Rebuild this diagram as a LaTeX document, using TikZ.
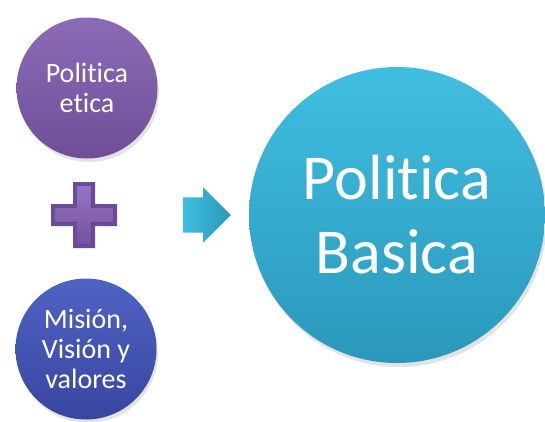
\documentclass[tikz,border=0pt]{standalone}
\usepackage{fontspec}
\setmainfont{Carlito}[Ligatures=NoCommon, Contextuals=NoAlternate, RawFeature={-liga;-clig;-calt;-dlig}]
\usepackage{tikz}
\usetikzlibrary{positioning}
\usetikzlibrary{shapes.arrows}
\tikzstyle{canvas} = [x = 1pt, y = -1pt]
\definecolor{ethicTop}{RGB}{140,108,184}
\definecolor{ethicBottom}{RGB}{110,78,150}
\definecolor{missionTop}{RGB}{80,98,196}
\definecolor{missionBottom}{RGB}{56,70,160}
\definecolor{basicTop}{RGB}{64,190,226}
\definecolor{basicBottom}{RGB}{42,152,186}
\definecolor{plusTop}{RGB}{150,116,196}
\definecolor{plusBottom}{RGB}{108,76,152}
\definecolor{shadowGray}{RGB}{200,200,200}
\tikzstyle{bubbleStyle} = [circle, draw=none, text=white, align=center, inner sep=0pt]
\tikzstyle{smallBubble} = [bubbleStyle, minimum size=141pt, font=\fontsize{28}{30}\selectfont]
\tikzstyle{bigBubble} = [bubbleStyle, minimum size=296pt, font=\fontsize{64}{74}\selectfont]
\tikzstyle{arrowStyle} = [single arrow, draw=none, minimum height=48pt, inner xsep=0pt, inner ysep=17.5pt,
  single arrow head extend=10pt, left color=basicTop, right color=basicBottom]
\newcommand{\bubbleShadow}[3]{\fill [shadowGray, opacity=.5] (#1 + 2, #2 + 4) circle (#3);}
% cross with half arm width #3 and half length #4
\newcommand{\crossPath}[4]{
    (#1 - #3, #2 - #4) -- (#1 + #3, #2 - #4) -- (#1 + #3, #2 - #3) -- (#1 + #4, #2 - #3)
    -- (#1 + #4, #2 + #3) -- (#1 + #3, #2 + #3) -- (#1 + #3, #2 + #4) -- (#1 - #3, #2 + #4)
    -- (#1 - #3, #2 + #3) -- (#1 - #4, #2 + #3) -- (#1 - #4, #2 - #3) -- (#1 - #3, #2 - #3) -- cycle
}
\newcommand{\plusSign}[2]{
  \fill [plusBottom] \crossPath{#1}{#2}{11}{33};
  \fill [top color=plusTop, bottom color=plusBottom!85!plusTop] \crossPath{#1}{#2}{7}{29};
}

\begin{document}
\begin{tikzpicture}[canvas]
  \useasboundingbox (0,0) rectangle (545,421);

  \bubbleShadow{87}{88}{70}
  \bubbleShadow{86}{349}{70}
  \bubbleShadow{397}{215}{148}

  \node [smallBubble, top color=ethicTop, bottom color=ethicBottom] (etica) at (87,88) {Politica\\etica};
  \node [smallBubble, top color=missionTop, bottom color=missionBottom] (mision) at (86,349) {Misión,\\Visión y\\valores};
  \node [bigBubble, top color=basicTop, bottom color=basicBottom] (basica) at (397,215) {Politica\\Basica};

  \plusSign{84}{215}
  \node [arrowStyle] (flecha) at (198,215) {};
\end{tikzpicture}
\end{document}
